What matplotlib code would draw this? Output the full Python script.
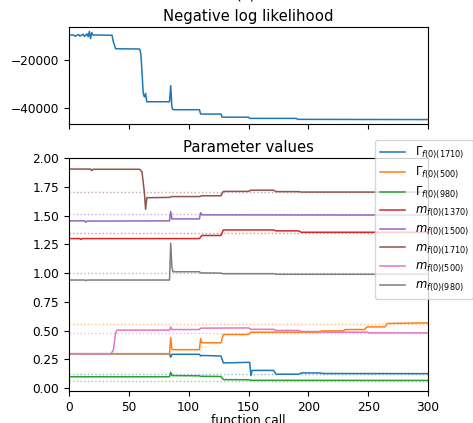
import matplotlib
matplotlib.use("Agg")
import matplotlib.pyplot as plt

# ---- Negative log likelihood ----
nll_x = [0, 4, 5, 8, 9, 12, 13, 15, 16, 17, 18, 19, 20, 22, 36, 37, 39, 59, 60, 61, 62,
         63, 64, 65, 84, 85, 86, 87, 109, 110, 127, 128, 150, 151, 190, 191, 300]
nll_y = [-9800, -9800, -10300, -9600, -10200, -9500, -10400, -9300, -10500, -8300, -11300,
         -8800, -9800, -9800, -9900, -12500, -15500, -15600, -17500, -25000, -34000,
         -35500, -34000, -37500, -37500, -30800, -40000, -40800, -40800, -42600, -42600,
         -43900, -43900, -44400, -44400, -44800, -44900]

# ---- Parameter values ----
labels = [r"$\Gamma_{f(0)(1710)}$", r"$\Gamma_{f(0)(500)}$", r"$\Gamma_{f(0)(980)}$",
          r"$m_{f(0)(1370)}$", r"$m_{f(0)(1500)}$", r"$m_{f(0)(1710)}$",
          r"$m_{f(0)(500)}$", r"$m_{f(0)(980)}$"]

g1710_x = [0, 84, 85, 86, 109, 110, 111, 127, 129, 150, 151, 152, 153, 171, 173, 192, 194, 210, 212, 300]
g1710_y = [0.30, 0.30, 0.27, 0.295, 0.295, 0.28, 0.285, 0.28, 0.22, 0.225, 0.225, 0.11, 0.155,
           0.155, 0.122, 0.122, 0.133, 0.133, 0.128, 0.127]

g500_x = [0, 84, 85, 86, 87, 109, 110, 111, 127, 129, 150, 152, 209, 211, 229, 231, 247, 249,
          264, 266, 300]
g500_y = [0.30, 0.30, 0.44, 0.34, 0.335, 0.335, 0.43, 0.395, 0.395, 0.467, 0.467, 0.487,
          0.487, 0.498, 0.498, 0.51, 0.51, 0.533, 0.533, 0.563, 0.568]

g980_x = [0, 84, 85, 86, 109, 110, 127, 129, 150, 152, 300]
g980_y = [0.10, 0.10, 0.14, 0.11, 0.108, 0.104, 0.102, 0.075, 0.074, 0.069, 0.068]

m1370_x = [0, 9, 10, 11, 109, 111, 127, 129, 171, 173, 192, 194, 300]
m1370_y = [1.30, 1.30, 1.293, 1.30, 1.30, 1.327, 1.327, 1.375, 1.375, 1.367, 1.367, 1.355, 1.355]

m1500_x = [0, 13, 14, 15, 84, 85, 86, 109, 110, 111, 300]
m1500_y = [1.454, 1.454, 1.442, 1.452, 1.454, 1.535, 1.471, 1.471, 1.525, 1.506, 1.504]

m1710_x = [0, 18, 19, 20, 59, 61, 63, 64, 65, 84, 86, 109, 111, 127, 129, 150, 152, 171, 173,
           192, 194, 300]
m1710_y = [1.904, 1.904, 1.89, 1.902, 1.902, 1.88, 1.70, 1.555, 1.655, 1.658, 1.665, 1.665,
           1.672, 1.672, 1.71, 1.71, 1.72, 1.72, 1.708, 1.708, 1.704, 1.704]

m500_x = [0, 35, 37, 39, 40, 84, 85, 86, 109, 110, 150, 152, 171, 173, 192, 194, 209, 211, 249, 251, 300]
m500_y = [0.30, 0.30, 0.33, 0.48, 0.505, 0.505, 0.533, 0.51, 0.51, 0.522, 0.524, 0.512, 0.512,
          0.502, 0.502, 0.493, 0.493, 0.487, 0.487, 0.481, 0.481]

m980_x = [0, 13, 14, 15, 84, 85, 86, 87, 109, 110, 127, 129, 171, 173, 300]
m980_y = [0.94, 0.94, 0.935, 0.94, 0.94, 1.26, 1.05, 1.012, 1.012, 1.002, 1.0, 0.995, 0.995, 0.99, 0.99]

true_vals = [0.12, 0.555, 0.063, 1.352, 1.51, 1.709, 0.481, 1.0]

series_x = [g1710_x, g500_x, g980_x, m1370_x, m1500_x, m1710_x, m500_x, m980_x]
series_y = [g1710_y, g500_y, g980_y, m1370_y, m1500_y, m1710_y, m500_y, m980_y]
colors = ["C0", "C1", "C2", "C3", "C4", "C5", "C6", "C7"]

plt.rcParams["font.size"] = 8.7

fig = plt.figure(figsize=(4.73, 4.23), dpi=100)
ax1 = fig.add_axes([69 / 473, 1 - 124 / 423, 359 / 473, 97 / 423])
ax2 = fig.add_axes([69 / 473, 1 - 391 / 423, 359 / 473, 233 / 423], sharex=ax1)

fig.text(0.52, 1.004, "(a)", ha="center", va="baseline", fontsize=10.5)

ax1.plot(nll_x, nll_y, color="C0", lw=1.1)
ax1.set_title("Negative log likelihood", fontsize=10.7, pad=4.5)
ax1.tick_params(labelbottom=False)
ax1.set_yticks([-20000, -40000])

for xs, ys, c, lab in zip(series_x, series_y, colors, labels):
    ax2.plot(xs, ys, color=c, lw=1.1, label=lab)
for v, c in zip(true_vals, colors):
    ax2.axhline(v, color=c, ls=":", lw=1.0, alpha=0.5)

ax2.set_title("Parameter values", fontsize=10.7, pad=4.5)
ax2.set_xlabel("function call", labelpad=0)
ax2.set_xlim(0, 300)
ax2.set_xticks([0, 50, 100, 150, 200, 250, 300])
ax2.set_yticks([0.0, 0.25, 0.5, 0.75, 1.0, 1.25, 1.5, 1.75, 2.0])

ax2.legend(loc="upper left", bbox_to_anchor=(375 / 473, 1 - 140 / 423),
           bbox_transform=fig.transFigure, fontsize=8.4, borderaxespad=0,
           labelspacing=0.3, handlelength=2.2, handletextpad=0.8)

fig.savefig("out.png", dpi=100)
